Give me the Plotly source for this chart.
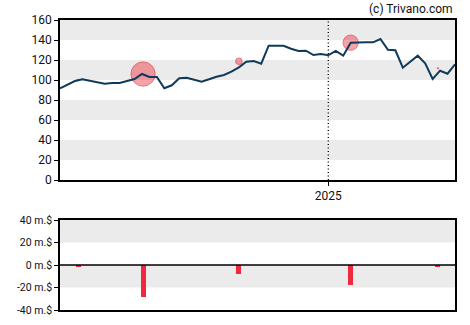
import pandas as pd
import plotly.graph_objects as go

# Weekly closing prices
start_date = "2024-04-24"
prices = [
    91.7, 95.5, 99.0, 100.7, 99.0, 97.7, 96.3, 97.0, 97.0, 99.0,
    101.0, 106.0, 103.0, 103.0, 91.7, 94.7, 101.7, 102.3, 100.0, 98.3,
    100.7, 103.3, 105.0, 108.3, 112.7, 118.3, 119.0, 116.3, 134.3, 134.3,
    134.3, 131.3, 129.0, 129.3, 125.0, 126.0, 124.7, 129.0, 124.3, 137.3,
    137.7, 137.7, 137.7, 141.0, 130.3, 129.7, 112.3, 118.3, 124.3, 116.7,
    101.0, 109.3, 106.3, 115.7,
]
dates = pd.date_range(start_date, periods=len(prices), freq="7D")

# Insider transactions: date, trade price, net volume (million $)
trade_dates = ["2024-05-11", "2024-07-11", "2024-10-09", "2025-01-22", "2025-04-14"]
trade_prices = [100.0, 106.0, 118.7, 137.3, 111.7]
trade_volumes = [-1.5, -28.2, -7.7, -17.8, -1.5]

y_ticks_top = [0, 20, 40, 60, 80, 100, 120, 140, 160]
y_ticks_bottom = [-40, -20, 0, 20, 40]
y_ticks_bottom_text = ["-40 m.$", "-20 m.$", "0 m.$", "20 m.$", "40 m.$"]

x_start = dates[0]
x_end = dates[-1]

LINE_COLOR = "#0f3a5a"
RED = "#f0283c"
BAND = "#ebebeb"
FONT = "Roboto, Arial, sans-serif"

fig = go.Figure()

# Bubble markers on the price chart (diameter scales with volume)
fig.add_trace(go.Scatter(
    x=trade_dates, y=trade_prices, mode="markers",
    marker=dict(size=[max(abs(v) * 0.86, 1.5) for v in trade_volumes],
                sizemode="diameter",
                color="rgba(238,40,58,0.62)",
                line=dict(color="rgba(225,30,50,0.8)", width=1)),
    xaxis="x", yaxis="y", hoverinfo="skip", showlegend=False,
))

# Price line
fig.add_trace(go.Scatter(
    x=dates, y=prices, mode="lines",
    line=dict(color=LINE_COLOR, width=2),
    xaxis="x", yaxis="y", hoverinfo="skip", showlegend=False,
))

# Volume bars
fig.add_trace(go.Bar(
    x=trade_dates, y=trade_volumes,
    width=4.7 * 86400000,
    marker=dict(color=RED, line=dict(width=0)),
    xaxis="x2", yaxis="y2", hoverinfo="skip", showlegend=False,
))

shapes = []
# Alternating horizontal bands on the price chart
for lo in (20, 60, 100, 140):
    shapes.append(dict(type="rect", xref="x domain", yref="y", x0=0, x1=1,
                       y0=lo, y1=lo + 20, fillcolor=BAND, line=dict(width=0),
                       layer="below"))
# Bands on the volume chart
for lo in (-20, 20):
    shapes.append(dict(type="rect", xref="x2 domain", yref="y2", x0=0, x1=1,
                       y0=lo, y1=lo + 20, fillcolor=BAND, line=dict(width=0),
                       layer="below"))
# Zero line on the volume chart
shapes.append(dict(type="line", xref="x2 domain", yref="y2", x0=0, x1=1,
                   y0=0, y1=0, line=dict(color="black", width=1.5)))
# Year boundary marker
shapes.append(dict(type="line", xref="x", yref="y domain", x0="2025-01-01",
                   x1="2025-01-01", y0=0, y1=1,
                   line=dict(color="black", width=1.3, dash="1px,2.5px")))

axis_common = dict(showline=True, linecolor="black", linewidth=1.5, mirror=True,
                   showgrid=False, zeroline=False, automargin=False)

fig.update_layout(
    width=470, height=325,
    margin=dict(l=60, r=15, t=20, b=15, autoexpand=False),
    paper_bgcolor="white", plot_bgcolor="white",
    font=dict(family=FONT, size=11, color="#111111"),
    shapes=shapes,
    bargap=0,
    xaxis=dict(domain=[0, 1], anchor="y", type="date",
               range=[x_start, x_end],
               tickvals=["2025-01-01"], ticktext=["2025"],
               ticks="outside", ticklen=4, tickcolor="black",
               tickfont=dict(size=12, family=FONT, color="#111111"),
               **axis_common),
    yaxis=dict(domain=[1 - 160 / 290, 1], anchor="x", range=[0, 160],
               tickvals=y_ticks_top, ticks="outside", ticklen=4,
               tickcolor="black", tickfont=dict(size=12, family=FONT),
               **axis_common),
    xaxis2=dict(domain=[0, 1], anchor="y2", type="date",
                range=[x_start, x_end], matches="x",
                showticklabels=False, ticks="",
                **axis_common),
    yaxis2=dict(domain=[0, 90 / 290], anchor="x2", range=[-40, 40],
                tickvals=y_ticks_bottom, ticktext=y_ticks_bottom_text,
                ticks="outside", ticklen=4, tickcolor="black",
                tickfont=dict(size=10.5, family=FONT),
                **axis_common),
    annotations=[dict(text="(c) Trivano.com", xref="paper", yref="paper",
                      x=1, y=1, xanchor="right", yanchor="bottom", yshift=2,
                      showarrow=False,
                      font=dict(size=12, family=FONT, color="#111111"))],
)

fig.write_html("out.html")
